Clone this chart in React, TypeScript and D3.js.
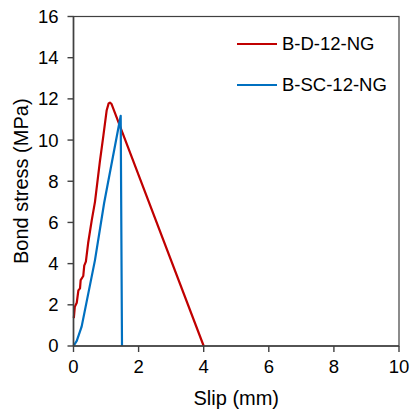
import React from "react";
import * as d3 from "d3";

const xTicks = [0, 2, 4, 6, 8, 10];
const yTicks = [0, 2, 4, 6, 8, 10, 12, 14, 16];

const seriesNames = ["B-D-12-NG", "B-SC-12-NG"];
const seriesColors = ["#C00000", "#0070C0"];

const dSlip = [0.01, 0.04, 0.1, 0.15, 0.2, 0.22, 0.3, 0.33, 0.38, 0.45, 0.56, 0.66, 0.81, 0.92, 1.02, 1.08, 1.12, 1.17, 4.0];
const dStress = [1.35, 1.9, 2.1, 2.7, 2.8, 3.2, 3.4, 3.9, 4.1, 5.0, 6.1, 7.0, 8.95, 10.24, 11.45, 11.78, 11.82, 11.75, 0];

const scSlip = [0, 0.1, 0.25, 0.66, 0.94, 1.45, 1.49];
const scStress = [0, 0.25, 0.94, 4.17, 6.93, 11.18, 0];

const W = 413;
const H = 416;
const left = 73.5;
const right = 399;
const top = 16.5;
const bottom = 346;

export default function App() {
  const x = d3.scaleLinear().domain([0, 10]).range([left, right]);
  const y = d3.scaleLinear().domain([0, 16]).range([bottom, top]);
  const line = d3
    .line<[number, number]>()
    .x((d) => x(d[0]))
    .y((d) => y(d[1]));
  const series = [
    dSlip.map((s, i) => [s, dStress[i]] as [number, number]),
    scSlip.map((s, i) => [s, scStress[i]] as [number, number]),
  ];
  const font = "Liberation Sans, Arial, sans-serif";
  const axisColor = "#404040";
  return (
    <svg width={W} height={H} style={{ position: "absolute", left: 0, top: 0 }}>
      <rect x={0} y={0} width={W} height={H} fill="#fff" />
      {series.map((pts, i) => (
        <path key={i} d={line(pts) || ""} fill="none" stroke={seriesColors[i]} strokeWidth={2.2} strokeLinejoin="round" />
      ))}
      <rect x={left} y={top} width={right - left} height={bottom - top} fill="none" stroke={axisColor} strokeWidth={1.2} />
      <line x1={left} x2={left} y1={top} y2={bottom} stroke={axisColor} strokeWidth={1.6} />
      <line x1={left} x2={right} y1={bottom} y2={bottom} stroke={axisColor} strokeWidth={1.6} />
      {yTicks.map((t) => (
        <g key={"y" + t}>
          <line x1={left - 6} x2={left} y1={y(t)} y2={y(t)} stroke={axisColor} strokeWidth={1.4} />
          <text x={left - 15} y={y(t)} dy="0.35em" textAnchor="end" fontFamily={font} fontSize={18.5} fill="#000">
            {t}
          </text>
        </g>
      ))}
      {xTicks.map((t) => (
        <g key={"x" + t}>
          <line x1={x(t)} x2={x(t)} y1={bottom} y2={bottom + 6} stroke={axisColor} strokeWidth={1.4} />
          <text x={x(t)} y={bottom + 27} textAnchor="middle" fontFamily={font} fontSize={18.5} fill="#000">
            {t}
          </text>
        </g>
      ))}
      <text x={(left + right) / 2} y={404.5} textAnchor="middle" fontFamily={font} fontSize={20} fill="#000">
        Slip (mm)
      </text>
      <text
        transform={`translate(${27.5},${(top + bottom) / 2}) rotate(-90)`}
        textAnchor="middle"
        fontFamily={font}
        fontSize={20}
        fill="#000"
      >
        Bond stress (MPa)
      </text>
      {seriesNames.map((n, i) => (
        <g key={n}>
          <line x1={237} x2={277} y1={44 + i * 41} y2={44 + i * 41} stroke={seriesColors[i]} strokeWidth={2.2} />
          <text x={282} y={44 + i * 41} dy="0.35em" fontFamily={font} fontSize={18.5} fill="#000">
            {n}
          </text>
        </g>
      ))}
    </svg>
  );
}
